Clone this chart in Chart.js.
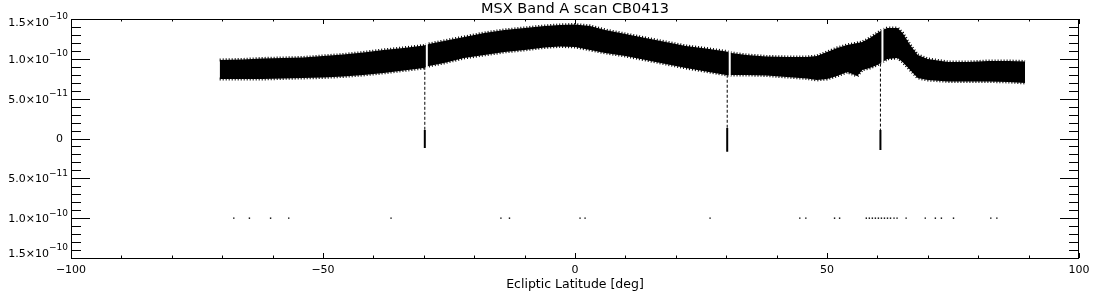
<!DOCTYPE html>
<html>
<head>
<meta charset="utf-8">
<script src="https://cdn.jsdelivr.net/npm/chart.js@4"></script>
<style>
  body { margin: 0; background: #fff; }
  #wrap { width: 1100px; height: 300px; }
</style>
</head>
<body>
<div id="wrap"><canvas id="plot" width="1100" height="300"></canvas></div>
<script>
// scan band (dense core envelope)
const bandLat = [-70.5, -66, -62, -58, -54, -50, -46, -42, -38, -34, -30, -29, -26, -22, -18, -14, -10, -6, -3, 0,
  3, 6, 10, 14, 18, 22, 26, 30, 31, 34, 38, 42, 46, 48, 50, 52, 54, 56, 57, 58.5, 60, 61, 62, 64, 65, 66.5, 68, 70,
  74, 78, 82, 86, 89.3];
const bandTop = [9.86e-11, 9.92e-11, 10.05e-11, 10.11e-11, 10.17e-11, 10.36e-11, 10.55e-11, 10.80e-11, 11.12e-11,
  11.37e-11, 11.68e-11, 11.87e-11, 12.25e-11, 12.75e-11, 13.25e-11, 13.63e-11, 13.88e-11, 14.13e-11, 14.26e-11,
  14.32e-11, 14.13e-11, 13.63e-11, 13.13e-11, 12.62e-11, 12.12e-11, 11.62e-11, 11.30e-11, 10.93e-11, 10.74e-11,
  10.49e-11, 10.30e-11, 10.24e-11, 10.24e-11, 10.36e-11, 10.86e-11, 11.37e-11, 11.74e-11, 11.99e-11, 12.12e-11,
  12.62e-11, 13.25e-11, 13.63e-11, 13.88e-11, 13.88e-11, 13.25e-11, 11.74e-11, 10.49e-11, 9.99e-11, 9.61e-11,
  9.61e-11, 9.73e-11, 9.73e-11, 9.67e-11];
const bandBottom = [7.47e-11, 7.47e-11, 7.47e-11, 7.54e-11, 7.60e-11, 7.66e-11, 7.79e-11, 7.98e-11, 8.23e-11,
  8.54e-11, 8.85e-11, 9.11e-11, 9.48e-11, 10.11e-11, 10.49e-11, 10.86e-11, 11.12e-11, 11.43e-11, 11.56e-11,
  11.49e-11, 11.12e-11, 10.74e-11, 10.36e-11, 9.86e-11, 9.36e-11, 8.85e-11, 8.42e-11, 7.98e-11, 7.98e-11,
  7.98e-11, 7.91e-11, 7.72e-11, 7.54e-11, 7.35e-11, 7.47e-11, 7.85e-11, 8.35e-11, 7.85e-11, 8.60e-11, 8.85e-11,
  9.23e-11, 9.61e-11, 9.99e-11, 10.11e-11, 9.61e-11, 8.60e-11, 7.60e-11, 7.35e-11, 7.16e-11, 7.16e-11, 7.16e-11,
  7.10e-11, 6.97e-11];

// dropouts where the scan crosses the plane
const dipLat = [-29.8, 30.2, 60.6];
const dipTop = [9.0e-11, 8.0e-11, 9.4e-11];
const dipKnee = [1.07e-11, 1.32e-11, 1.07e-11];
const dipBottom = [-1.19e-11, -1.66e-11, -1.45e-11];

// empty columns next to each dropout
const gapLat = [-29.4, 30.7, 61.0];
const gapTop = [1.21e-10, 1.11e-10, 1.41e-10];
const gapBottom = [8.7e-11, 7.8e-11, 9.1e-11];

// flagged samples sitting at the fill value
const flagLat = [-67.7, -64.6, -60.4, -56.8, -36.5, -14.7, -13.0, 1.0, 2.0, 26.8, 44.6, 45.8, 51.5, 52.5,
  57.8, 58.4, 59.0, 59.6, 60.2, 60.8, 61.4, 62.0, 62.6, 63.3, 63.9, 65.7, 69.5, 71.5, 72.7, 75.1, 82.5, 83.7];
const flagValue = -1.0e-10;

// axes
const xMajor = [-100, -50, 0, 50, 100];
const xLabels = ['\u2212100', '\u221250', '0', '50', '100'];
const yMajor = [1.5e-10, 1.0e-10, 5.0e-11, 0, -5.0e-11, -1.0e-10, -1.5e-10];
const yBase = ['1.5\u00d710', '1.0\u00d710', '5.0\u00d710', '0', '5.0\u00d710', '1.0\u00d710', '1.5\u00d710'];
const yExp = ['\u221210', '\u221210', '\u221211', '', '\u221211', '\u221210', '\u221210'];

const chartTitle = 'MSX Band A scan CB0413';
const xTitle = 'Ecliptic Latitude [deg]';

function pts(xs, ys) {
  return xs.map((x, i) => ({ x: x, y: ys[i] }));
}

function segs(xs, a, b) {
  let out = [];
  for (let i = 0; i < xs.length; i++) {
    out.push({ x: xs[i], y: a[i] }, { x: xs[i], y: b[i] }, { x: xs[i], y: null });
  }
  return out;
}

const font = '"DejaVu Sans", sans-serif';

// IDL-like box with inward ticks on all sides
const idlAxes = {
  id: 'idlAxes',
  afterDraw(chart) {
    const ctx = chart.ctx;
    const a = chart.chartArea;
    const xs = chart.scales.x;
    const ys = chart.scales.y;
    ctx.save();
    ctx.strokeStyle = '#000';
    ctx.fillStyle = '#000';
    ctx.lineWidth = 1;
    ctx.strokeRect(a.left + 0.5, a.top + 0.5, a.right - a.left - 1, a.bottom - a.top);

    ctx.beginPath();
    for (let v = -100; v <= 100; v += 10) {
      let px = Math.round(xs.getPixelForValue(v)) + 0.5;
      let len = (v % 50 === 0) ? 5 : 2.5;
      ctx.moveTo(px, a.bottom); ctx.lineTo(px, a.bottom - len);
      ctx.moveTo(px, a.top); ctx.lineTo(px, a.top + len);
    }
    for (let k = -15; k <= 15; k++) {
      let py = Math.round(ys.getPixelForValue(k * 1e-11)) + 0.5;
      let len = (k % 5 === 0) ? 19 : 10;
      ctx.moveTo(a.left, py); ctx.lineTo(a.left + len, py);
      ctx.moveTo(a.right, py); ctx.lineTo(a.right - len, py);
    }
    ctx.stroke();

    // x tick labels
    ctx.font = '11px ' + font;
    ctx.textAlign = 'center';
    ctx.textBaseline = 'middle';
    xMajor.forEach((v, i) => {
      ctx.fillText(xLabels[i], xs.getPixelForValue(v), a.bottom + 12);
    });

    // y tick labels with raised exponent
    yMajor.forEach((v, i) => {
      let py = ys.getPixelForValue(v) + 1;
      py = Math.min(Math.max(py, a.top + 4), a.bottom - 4);
      ctx.textBaseline = 'middle';
      if (yExp[i] === '') {
        ctx.font = '11px ' + font;
        ctx.textAlign = 'right';
        ctx.fillText(yBase[i], 63, py);
        return;
      }
      ctx.font = '9px ' + font;
      let ew = ctx.measureText(yExp[i]).width;
      ctx.textAlign = 'right';
      ctx.fillText(yExp[i], 68, py - 6);
      ctx.font = '11px ' + font;
      ctx.fillText(yBase[i], 68 - ew, py);
    });

    // titles
    ctx.textAlign = 'center';
    ctx.font = '14.5px ' + font;
    ctx.fillText(chartTitle, 575, 9);
    ctx.font = '12.5px ' + font;
    ctx.fillText(xTitle, 575, 285);
    ctx.restore();
  }
};

new Chart(document.getElementById('plot'), {
  type: 'scatter',
  data: {
    datasets: [
      {
        // band top edge, drawn as a speckled line to mimic the noisy fringe
        type: 'line', data: pts(bandLat, bandTop), borderColor: '#000', borderWidth: 3,
        borderDash: [1, 2], pointRadius: 0, fill: false, tension: 0, order: 6
      },
      {
        type: 'line', data: pts(bandLat, bandBottom), borderColor: '#000', borderWidth: 3,
        borderDash: [1, 2], pointRadius: 0, fill: '-1', backgroundColor: '#000', tension: 0, order: 5
      },
      {
        type: 'line', data: segs(gapLat, gapTop, gapBottom), borderColor: '#fff', borderWidth: 2,
        pointRadius: 0, spanGaps: false, fill: false, order: 4
      },
      {
        type: 'line', data: segs(dipLat, dipTop, dipKnee), borderColor: '#000', borderWidth: 1,
        borderDash: [3, 2], pointRadius: 0, spanGaps: false, fill: false, order: 3
      },
      {
        type: 'line', data: segs(dipLat, dipKnee, dipBottom), borderColor: '#000', borderWidth: 2,
        pointRadius: 0, spanGaps: false, fill: false, order: 2
      },
      {
        data: flagLat.map(x => ({ x: x, y: flagValue })), pointStyle: 'rect', pointRadius: 1,
        borderWidth: 0, backgroundColor: '#000', order: 1
      }
    ]
  },
  options: {
    responsive: false,
    animation: false,
    devicePixelRatio: 1,
    layout: { padding: { left: 71, right: 21, top: 19, bottom: 42 } },
    plugins: { legend: { display: false }, tooltip: { enabled: false }, title: { display: false } },
    scales: {
      x: { type: 'linear', min: -100, max: 100, display: false },
      y: { type: 'linear', min: -1.5e-10, max: 1.5e-10, display: false }
    }
  },
  plugins: [idlAxes]
});
</script>
</body>
</html>
